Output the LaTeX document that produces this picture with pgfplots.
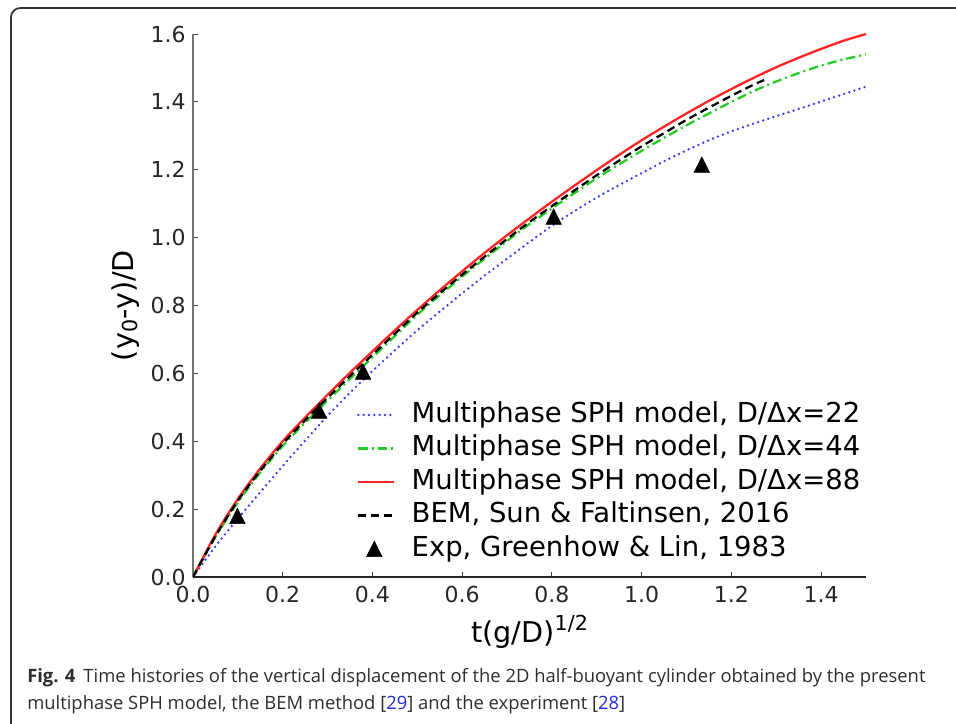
\documentclass[border=0pt]{standalone}
\usepackage{pgfplots}
\pgfplotsset{compat=1.18}
\usepackage{fontspec}
\setmainfont{DejaVu Sans}
\newfontfamily\capfont{Open Sans}
\definecolor{cblue}{RGB}{60,60,255}
\definecolor{cgreen}{RGB}{34,204,34}
\definecolor{cred}{RGB}{255,34,34}
\definecolor{refblue}{RGB}{40,40,230}
\definecolor{capgray}{RGB}{45,45,45}
\pgfdeclareplotmark{mtri}{%
  \pgfpathmoveto{\pgfqpoint{0pt}{\pgfplotmarksize}}%
  \pgfpathlineto{\pgfqpoint{-\pgfplotmarksize}{-\pgfplotmarksize}}%
  \pgfpathlineto{\pgfqpoint{\pgfplotmarksize}{-\pgfplotmarksize}}%
  \pgfpathclose\pgfusepathqfillstroke}
\pgfplotsset{
  mylinelegend/.style={legend image code/.code={\draw[##1] (0pt,0pt) -- (27pt,0pt); \path (39pt,0pt);}},
  mytrilegend/.style={legend image code/.code={\draw[##1] plot coordinates {(12pt,0pt)}; \path (0pt,0pt) (39pt,0pt);}},
}

\pgfplotstableread{
x y
0 0
0.05 0.09
0.1 0.172
0.15 0.25
0.2 0.327
0.25 0.402
0.3 0.475
0.35 0.543
0.4 0.607
0.45 0.668
0.5 0.727
0.55 0.782
0.6 0.836
0.65 0.888
0.7 0.938
0.75 0.987
0.8 1.035
0.85 1.078
0.9 1.118
0.95 1.155
1.0 1.19
1.05 1.225
1.1 1.257
1.15 1.287
1.2 1.313
1.25 1.336
1.3 1.358
1.35 1.379
1.4 1.401
1.45 1.423
1.5 1.445
}\sphA

\pgfplotstableread{
x y
0 0
0.05 0.118
0.1 0.22
0.15 0.308
0.2 0.386
0.25 0.455
0.3 0.52
0.35 0.584
0.4 0.647
0.45 0.71
0.5 0.773
0.55 0.83
0.6 0.885
0.65 0.938
0.7 0.99
0.75 1.04
0.8 1.086
0.85 1.131
0.9 1.175
0.95 1.216
1.0 1.256
1.05 1.294
1.1 1.331
1.15 1.366
1.2 1.40
1.25 1.432
1.3 1.46
1.35 1.485
1.4 1.507
1.45 1.525
1.5 1.54
}\sphB

\pgfplotstableread{
x y
0 0
0.05 0.125
0.1 0.23
0.15 0.32
0.2 0.40
0.25 0.47
0.3 0.537
0.35 0.602
0.4 0.665
0.45 0.727
0.5 0.787
0.55 0.845
0.6 0.901
0.65 0.955
0.7 1.007
0.75 1.057
0.8 1.106
0.85 1.153
0.9 1.199
0.95 1.244
1.0 1.287
1.05 1.327
1.1 1.366
1.15 1.403
1.2 1.438
1.25 1.471
1.3 1.502
1.35 1.530
1.4 1.556
1.45 1.580
1.5 1.600
}\sphC

\pgfplotstableread{
x y
0 0
0.05 0.12
0.1 0.225
0.15 0.313
0.2 0.392
0.25 0.462
0.3 0.528
0.35 0.592
0.4 0.655
0.45 0.717
0.5 0.779
0.55 0.836
0.6 0.891
0.65 0.944
0.7 0.996
0.75 1.046
0.8 1.093
0.85 1.139
0.9 1.184
0.95 1.227
1.0 1.269
1.05 1.308
1.1 1.347
1.15 1.383
1.2 1.418
1.25 1.451
1.28 1.468
}\bem

\pgfplotstableread{
x y
0.099 0.180
0.281 0.490
0.379 0.605
0.804 1.062
1.134 1.215
}\expdata

\begin{document}
\begin{tikzpicture}[x=0.75pt,y=0.75pt]
\useasboundingbox (0,0) rectangle (956,724);
\draw[line width=1.3pt, color=black!80, rounded corners=7pt] (11,-60) |- (1020,716);
\begin{axis}[
  at={(144.75pt,110.25pt)}, anchor=south west,
  scale only axis, width=504.75pt, height=407.25pt,
  xmin=0, xmax=1.5, ymin=0, ymax=1.6,
  axis lines=left,
  axis line style={-, line width=0.9pt},
  x axis line style={black!85},
  y axis line style={black!55},
  xtick={0,0.2,0.4,0.6,0.8,1.0,1.2,1.4},
  ytick={0,0.2,0.4,0.6,0.8,1.0,1.2,1.4,1.6},
  tick align=inside, major tick length=3.75pt,
  tick style={black!75, line width=0.7pt},
  /pgf/number format/assume math mode=true,
  /pgf/number format/fixed, /pgf/number format/fixed zerofill,
  /pgf/number format/precision=1,
  ticklabel style={font=\fontsize{16.5}{19}\selectfont, text=black!85},
  xticklabel style={inner sep=0pt, anchor=north},
  yticklabel style={inner sep=0pt, anchor=east},
  xticklabel shift=6.75pt, yticklabel shift=5.25pt,
  xlabel={t(g/D)\raisebox{9.5pt}{\fontsize{15.5}{18}\selectfont 1/2}},
  ylabel={(y\raisebox{-3pt}{\fontsize{15.5}{18}\selectfont 0}-y)/D},
  xlabel style={at={(axis description cs:0.5,-0.1215)}, anchor=base, inner sep=0pt, font=\fontsize{21.5}{25}\selectfont},
  ylabel style={at={(axis description cs:-0.1204,0.5)}, anchor=north, inner sep=0pt, font=\fontsize{21.5}{25}\selectfont},
  legend style={at={(axis description cs:0.2437,0.3217)}, anchor=north west,
    draw=none, fill=none, inner sep=0pt, outer sep=0pt, row sep=6.1pt,
    font=\fontsize{20.6}{24}\selectfont,
    nodes={inner sep=0pt, text height=15pt, text depth=4pt}},
  legend cell align=left,
  mylinelegend,
  every axis plot/.append style={line width=1.7pt},
]
\addplot[cblue, smooth, line width=2pt, line cap=round, dash pattern=on 0pt off 4pt] table[x=x,y=y] {\sphA};
\addlegendentry{Multiphase SPH model, D/Δx=22}
\addplot[cgreen, smooth, dash pattern=on 7pt off 3pt on 1.5pt off 3pt] table[x=x,y=y] {\sphB};
\addlegendentry{Multiphase SPH model, D/Δx=44}
\addplot[cred, smooth] table[x=x,y=y] {\sphC};
\addlegendentry{Multiphase SPH model, D/Δx=88}
\addplot[black, smooth, dash pattern=on 6pt off 3.5pt] table[x=x,y=y] {\bem};
\addlegendentry{BEM, Sun \& Faltinsen, 2016}
\addplot[only marks, mark=mtri, mark size=5.8pt, black, line width=0.4pt, mytrilegend]
  table[x=x,y=y] {\expdata};
\addlegendentry{Exp, Greenhow \& Lin, 1983}
\end{axis}
\node[anchor=base west, inner sep=0pt, text=capgray, font=\capfont\fontsize{13.8}{16}\selectfont] at (27,41)
  {\textbf{Fig. 4}\hspace{6pt}Time histories of the vertical displacement of the 2D half-buoyant cylinder obtained by the present};
\node[anchor=base west, inner sep=0pt, text=capgray, font=\capfont\fontsize{13.8}{16}\selectfont] at (27,14)
  {multiphase SPH model, the BEM method [\textcolor{refblue}{29}] and the experiment [\textcolor{refblue}{28}]};
\end{tikzpicture}
\end{document}
